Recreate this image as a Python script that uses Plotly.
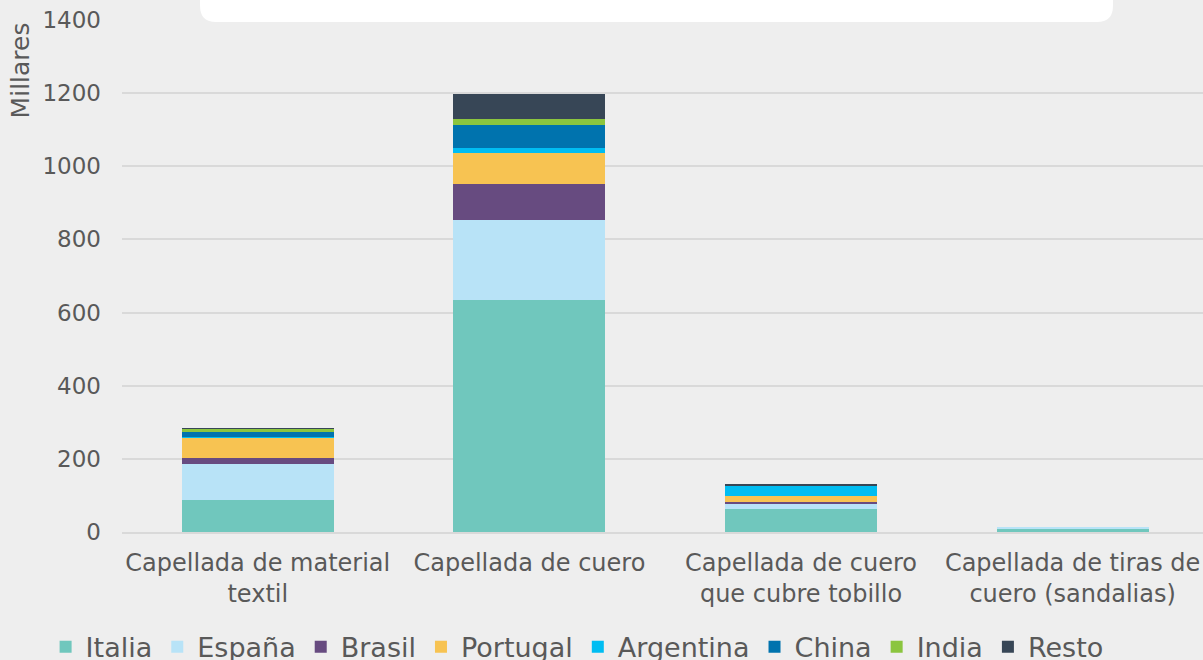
import plotly.graph_objects as go

# Categories (calzado por tipo de capellada)
categorias = [
    "Capellada de material<br>textil",
    "Capellada de cuero",
    "Capellada de cuero<br>que cubre tobillo",
    "Capellada de tiras de<br>cuero (sandalias)",
]

# Valores en millares por país de origen
italia = [88, 634, 62, 10]
espana = [99, 219, 17, 1]
brasil = [15, 99, 3, 0]
portugal = [57, 84, 17, 0]
argentina = [2, 14, 27, 0]
china = [12, 63, 0, 0]
india = [10, 16, 0, 0]
resto = [1, 70, 5, 0]

series = [
    ("Italia", italia, "#70C7BD"),
    ("España", espana, "#B8E3F7"),
    ("Brasil", brasil, "#674B80"),
    ("Portugal", portugal, "#F7C352"),
    ("Argentina", argentina, "#00BDF2"),
    ("China", china, "#0073AE"),
    ("India", india, "#8BC53F"),
    ("Resto", resto, "#374656"),
]

fig = go.Figure()
for nombre, valores, color in series:
    fig.add_trace(go.Bar(
        name=nombre,
        x=categorias,
        y=valores,
        marker=dict(color=color, line=dict(width=0)),
    ))

font_family = "DejaVu Sans, Verdana, sans-serif"
text_color = "#595959"

# Plot-area geometry used for the rounded white title panel
plot_w = 1203 - 122
plot_h = 660 - 20 - 128
rx = 16 / plot_w
ry = 16 / plot_h
x0, x1 = 0.0722, 0.9167
yb = 1 - 2 / plot_h
panel_path = (
    f"M {x0},1.2 L {x0},{yb + ry} Q {x0},{yb} {x0 + rx},{yb} "
    f"L {x1 - rx},{yb} Q {x1},{yb} {x1},{yb + ry} L {x1},1.2 Z"
)

fig.update_layout(
    barmode="stack",
    bargap=0.44,
    width=1203,
    height=660,
    paper_bgcolor="#EEEEEE",
    plot_bgcolor="#EEEEEE",
    margin=dict(l=122, r=0, t=20, b=128, autoexpand=False),
    font=dict(family=font_family, color=text_color, size=22),
    showlegend=True,
    legend=dict(
        orientation="h",
        x=0.421, xref="paper",
        xanchor="center",
        y=-0.225, yanchor="middle",
        font=dict(size=27, color=text_color),
        traceorder="normal",
        itemwidth=30,
        tracegroupgap=0,
        bgcolor="rgba(0,0,0,0)",
    ),
    xaxis=dict(
        range=[-0.5, 3.48],
        automargin=False,
        showgrid=False,
        showline=True,
        linecolor="#D9D9D9",
        linewidth=2,
        ticks="",
        ticklabelstandoff=8,
        tickfont=dict(size=24, color=text_color),
        fixedrange=True,
    ),
    yaxis=dict(
        range=[0, 1400],
        dtick=200,
        automargin=False,
        showgrid=True,
        gridcolor="#D9D9D9",
        gridwidth=2,
        zeroline=False,
        showline=False,
        ticks="",
        ticklabelstandoff=20,
        tickfont=dict(size=23, color=text_color),
        fixedrange=True,
    ),
    shapes=[
        dict(
            type="path",
            xref="paper", yref="paper",
            path=panel_path,
            fillcolor="#FFFFFF",
            line=dict(width=0),
            layer="above",
        ),
    ],
    annotations=[
        dict(
            text="Millares",
            textangle=-90,
            xref="paper", yref="paper",
            x=-0.094, y=1.0,
            xanchor="center", yanchor="top",
            showarrow=False,
            font=dict(size=25, color=text_color),
        ),
    ],
)

fig.write_html("out.html")
